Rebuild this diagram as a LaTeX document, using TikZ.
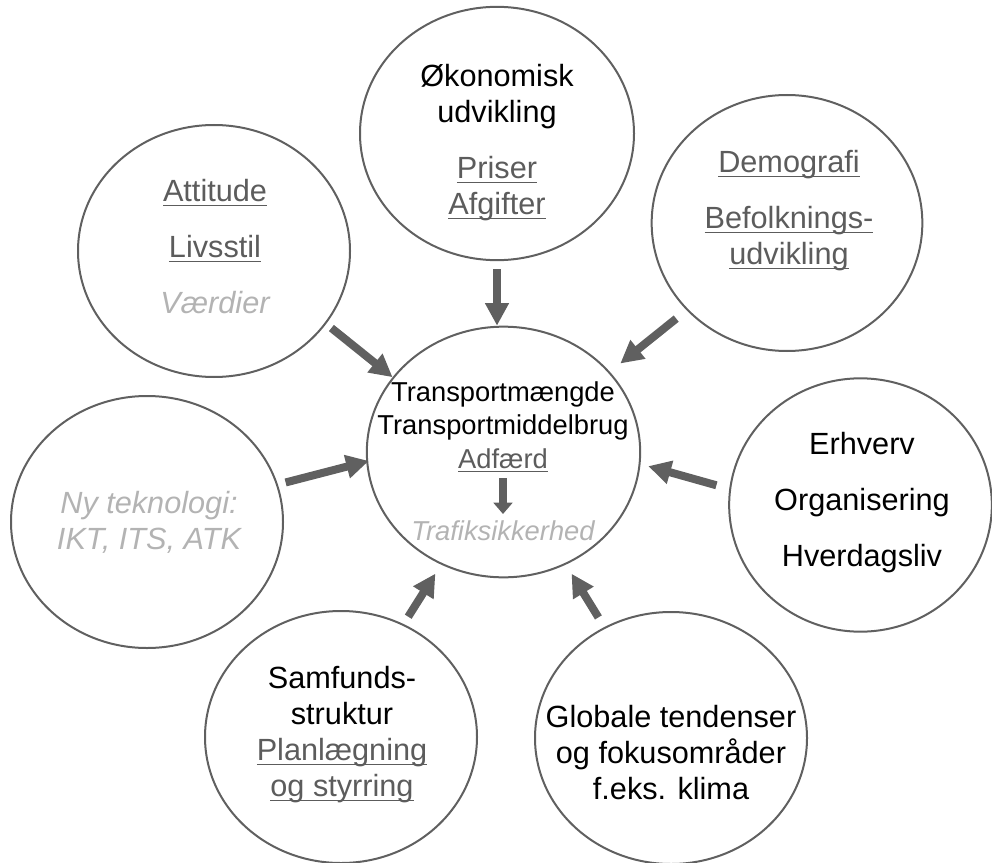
\documentclass[tikz,border=0pt]{standalone}
\usepackage{fontspec}
\setmainfont{Liberation Sans}
\usetikzlibrary{arrows.meta,shapes.geometric}

\definecolor{rimgray}{HTML}{606060}
\definecolor{linkgray}{HTML}{5C5C5C}
\definecolor{palegray}{HTML}{B3B3B3}

\newsavebox{\ulbox}
\newcommand{\uln}[1]{\sbox{\ulbox}{#1}\rlap{\rule[-3.3pt]{\wd\ulbox}{1.2pt}}\usebox{\ulbox}}
\newcommand{\lnk}[1]{\textcolor{linkgray}{\uln{#1}}}
\newcommand{\soft}[1]{{\itshape\color{palegray}#1}}

\begin{document}
\begin{tikzpicture}[
      x=0.75pt, y=-0.75pt,
      every node/.style={font=\fontsize{23}{27}\selectfont},
      bubble/.style={draw=rimgray, line width=1.5pt, ellipse, inner sep=0pt, minimum width=204pt, minimum height=189pt},
      txt/.style={align=center, inner sep=0pt},
      coretxt/.style={txt, font=\fontsize{20.5}{25}\selectfont},
      arrow/.style={-{Triangle[width=17pt,length=17pt]}, line width=6pt, draw=rimgray},
      smallarrow/.style={-{Triangle[width=14pt,length=8.5pt]}, line width=6pt, draw=rimgray},
    ]
    \useasboundingbox (0,0) rectangle (992,863);

    % circles
    \node[bubble, minimum width=205pt, minimum height=188pt] (core) at (503.5,452) {};
    \node[bubble, minimum width=205.5pt, minimum height=190pt] (econ) at (497,133.5) {};
    \node[bubble] (att) at (214,251) {};
    \node[bubble, minimum width=203pt, minimum height=192pt] (demo) at (787,223) {};
    \node[bubble] (tech) at (147,522) {};
    \node[bubble, minimum width=197pt, minimum height=190pt] (trade) at (860.5,505) {};
    \node[bubble] (soc) at (341,737) {};
    \node[bubble] (glob) at (671,738) {};

    % texts
    \node[coretxt] (adf) at (503,427) {Transportmængde\\Transportmiddelbrug\\\lnk{Adfærd}};
    \node[coretxt] (trf) at (503,531) {\soft{Trafiksikkerhed}};
    \node[txt] (econtxt) at (497,143) {Økonomisk\\udvikling\\[15pt]\lnk{Priser}\\\lnk{Afgifter}};
    \node[txt] (atttxt) at (215,247) {\lnk{Attitude}\\[15pt]\lnk{Livsstil}\\[15pt]\soft{Værdier}};
    \node[txt] (demotxt) at (789,211) {\lnk{Demografi}\\[15pt]\lnk{Befolknings-}\\\lnk{udvikling}};
    \node[txt] (techtxt) at (149,522) {\soft{Ny teknologi:}\\\soft{IKT, ITS, ATK}};
    \node[txt] (tradetxt) at (862,503) {Erhverv\\[15pt]Organisering\\[15pt]Hverdagsliv};
    \node[txt] (soctxt) at (342,735) {Samfunds-\\struktur\\\lnk{Planlægning}\\\lnk{og styrring}};
    \node[txt] (globtxt) at (671,753) {Globale tendenser\\og fokusområder\\f.eks. klima};

    % arrows into the centre
    \draw[arrow, shorten <=6pt] (econ.south) -- (econ.south |- core.north);
    \draw[arrow, shorten <=5pt] (att.-33) -- (core.146);
    \draw[arrow, shorten <=10pt, shorten >=10pt] (demo.-139) -- (core.37);
    \draw[arrow, shorten <=6pt, shorten >=-2pt] (tech.16) -- (core.184);
    \draw[arrow, shorten <=10pt, shorten >=6pt] (trade.173) -- (core.-5);
    \draw[arrow, shorten <=6.5pt, shorten >=8pt] (soc.61) -- (core.-119);
    \draw[arrow, shorten <=8.5pt, shorten >=8pt] (glob.121) -- (core.-61);
    \draw[smallarrow, shorten <=4pt, shorten >=5pt] (adf) -- (trf);
  \end{tikzpicture}
\end{document}
